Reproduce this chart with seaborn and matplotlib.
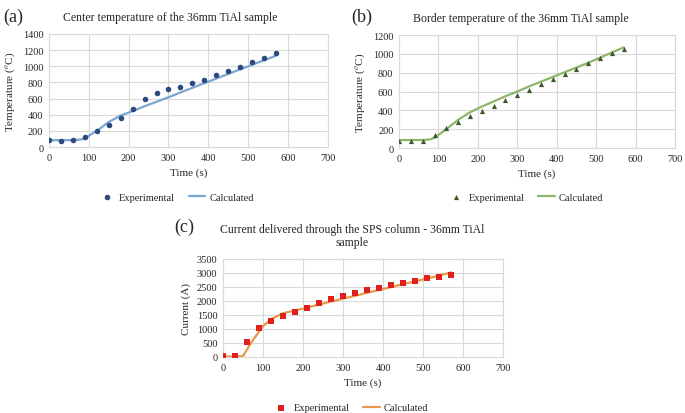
import numpy as np
import pandas as pd
import matplotlib.pyplot as plt
import seaborn as sns

# experimental sampling times (s)
time_exp = [0, 30, 60, 90, 120, 150, 180, 210, 240, 270,
            300, 330, 360, 390, 420, 450, 480, 510, 540, 570]

# (a) center temperature
center_exp = [90, 80, 85, 125, 195, 275, 365, 470, 590, 670,
              715, 745, 790, 835, 890, 940, 995, 1050, 1100, 1160]
center_calc_t = [0, 30, 60, 80, 90, 120, 150, 180, 210, 240, 270,
                 300, 330, 360, 390, 420, 450, 480, 510, 540, 570]
center_calc = [85, 85, 85, 92, 108, 200, 310, 390, 445, 505, 560,
               616, 675, 733, 790, 848, 905, 962, 1018, 1075, 1130]

# (b) border temperature
border_exp = [80, 80, 80, 135, 210, 280, 345, 395, 450, 505,
              565, 620, 680, 735, 785, 840, 900, 955, 1005, 1055]
border_calc_t = [0, 30, 60, 80, 90, 120, 150, 180, 210, 240, 270,
                 300, 330, 360, 390, 420, 450, 480, 510, 540, 570]
border_calc = [85, 85, 85, 92, 110, 200, 300, 380, 440, 495, 550,
               600, 655, 705, 755, 805, 855, 905, 960, 1015, 1070]

# (c) current
current_exp = [20, 20, 520, 1030, 1290, 1460, 1600, 1750, 1920, 2060,
               2190, 2290, 2380, 2460, 2560, 2630, 2720, 2800, 2870, 2930]
current_calc_t = [0, 30, 50, 70, 90, 100, 120, 150, 180, 210, 240, 270,
                  300, 330, 360, 390, 420, 450, 480, 510, 540, 570]
current_calc = [20, 20, 30, 500, 900, 1100, 1350, 1560, 1660, 1760, 1870, 1980,
                2080, 2180, 2290, 2390, 2490, 2600, 2700, 2800, 2900, 3020]

sns.set_style('white')
plt.rcParams['font.family'] = ['Liberation Serif', 'DejaVu Serif']
plt.rcParams['mathtext.fontset'] = 'stix'

GRID = '#d9d9d9'


def panel(ax, t_exp, y_exp, t_calc, y_calc, mcolor, lcolor, marker, ms,
          ylim, ystep, ylabel, title, title_x, tag, tag_xy, legend_xy):
    exp = pd.DataFrame({'t': t_exp, 'y': y_exp})
    calc = pd.DataFrame({'t': t_calc, 'y': y_calc})
    sns.lineplot(data=calc, x='t', y='y', color=lcolor, lw=1.6,
                 label='Calculated', ax=ax, zorder=2)
    sns.scatterplot(data=exp, x='t', y='y', color=mcolor, marker=marker,
                    s=ms, edgecolor=mcolor, linewidth=0, label='Experimental',
                    ax=ax, zorder=3)
    ax.set_xlim(0, 700)
    ax.set_ylim(0, ylim)
    ax.set_xticks(np.arange(0, 701, 100))
    ax.set_yticks(np.arange(0, ylim + 1, ystep))
    ax.grid(True, color=GRID, lw=0.8)
    ax.set_axisbelow(True)
    for s in ax.spines.values():
        s.set_color(GRID)
        s.set_linewidth(0.8)
    ax.tick_params(length=0, labelsize=7.5, pad=4)
    ax.set_xlabel('Time (s)', fontsize=8)
    ax.set_ylabel(ylabel, fontsize=8)
    ax.set_title(title, fontsize=8.5, pad=10, x=title_x, linespacing=1.1)
    fig = ax.figure
    fig.text(tag_xy[0], tag_xy[1], tag, fontsize=13, ha='left', va='center')
    h, l = ax.get_legend_handles_labels()
    ax.legend(h[::-1], l[::-1], loc='center', bbox_to_anchor=legend_xy,
              bbox_transform=fig.transFigure, ncol=2, frameon=False,
              fontsize=7.5, handlelength=1.6, handletextpad=0.4,
              columnspacing=1.3)


fig = plt.figure(figsize=(6.85, 4.14), dpi=100)
ax_a = fig.add_axes([0.0715, 0.6425, 0.407, 0.273])
ax_b = fig.add_axes([0.5825, 0.640, 0.403, 0.273])
ax_c = fig.add_axes([0.3255, 0.1353, 0.409, 0.237])

panel(ax_a, time_exp, center_exp, center_calc_t, center_calc,
      '#2c4a7e', '#7aa6d2', 'o', 16, 1400, 200, 'Temperature ($^{o}$C)',
      'Center temperature of the 36mm TiAl sample', 0.435, '(a)',
      (0.005, 0.958), (0.257, 0.522))
panel(ax_b, time_exp, border_exp, border_calc_t, border_calc,
      '#3b5a2c', '#8fb56a', '^', 14, 1200, 200, 'Temperature ($^{o}$C)',
      'Border temperature of the 36mm TiAl sample', 0.44, '(b)',
      (0.513, 0.958), (0.767, 0.522))
panel(ax_c, time_exp, current_exp, current_calc_t, current_calc,
      '#e0201c', '#e8984a', 's', 16, 3500, 500, 'Current (A)',
      'Current delivered through the SPS column - 36mm TiAl\nsample', 0.46,
      '(c)', (0.255, 0.45), (0.512, 0.013))

fig.savefig('out.png', dpi=100)
